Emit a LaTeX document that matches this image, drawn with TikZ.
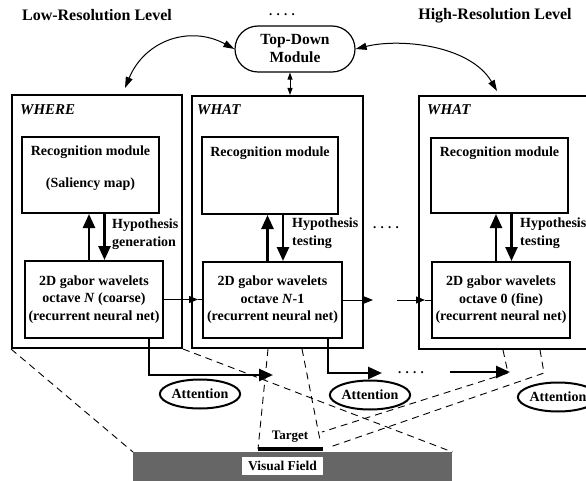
\documentclass[tikz,border=0pt]{standalone}
\usepackage{fontspec}
\setmainfont{Liberation Serif}
\usetikzlibrary{arrows.meta,shapes.geometric}
\definecolor{vfgray}{gray}{0.40}
\begin{document}
\begin{tikzpicture}[x=1pt,y=-1pt,
  box/.style={draw, line width=2pt, inner sep=0pt},
  txt/.style={font=\fontsize{14}{17.5}\selectfont\bfseries, align=center, inner sep=0pt},
  head/.style={font=\fontsize{16}{19}\selectfont\bfseries, inner sep=0pt},
  tag/.style={font=\fontsize{15}{18}\selectfont\bfseries\itshape, anchor=west, inner sep=0pt},
  hyp/.style={font=\fontsize{14}{18}\selectfont\bfseries, align=left, anchor=west, inner sep=0pt},
  bigarrow/.style={line width=2.5pt, -{Triangle[length=14pt,width=12pt]}},
  thinarrow/.style={line width=0.9pt, -{Triangle[length=9pt,width=7pt]}},
  curvearrow/.style={line width=1pt, {Triangle[length=11pt,width=7pt]}-{Triangle[length=11pt,width=7pt]}},
  att/.style={draw, ellipse, fill=white, line width=2pt, minimum width=77pt, minimum height=29pt, inner sep=0pt, font=\fontsize{14}{17}\selectfont\bfseries},
  fov/.style={dash pattern=on 7pt off 5pt, line width=0.9pt},
  dots/.style={font=\fontsize{13}{16}\selectfont\bfseries, inner sep=0pt},
]
\useasboundingbox (0,0) rectangle (586,481);
\clip (0,0) rectangle (586,481);

% level headings
\node[head] (lowres) at (97,15) {Low-Resolution Level};
\node[head] (highres) at (495,16) {High-Resolution Level};
\node[dots] (topdots) at (282,15) {. . . .};

% top-down module
\node[draw, line width=1.2pt, rounded corners=23pt, minimum width=120pt, minimum height=46pt,
      align=center, inner sep=0pt, font=\fontsize{15.5}{18}\selectfont\bfseries] (td) at (295,49) {Top-Down\\Module};

% outer columns
\node[box, minimum width=170pt, minimum height=253pt] (where) at (97,221.5) {};
\node[box, minimum width=171pt, minimum height=252pt] (what1) at (277.5,222) {};
\node[box, minimum width=181pt, minimum height=253pt] (what2) at (509.5,222.5) {};
\node[tag] (wheretag) at (20,110) {WHERE};
\node[tag] (what1tag) at (197,110) {WHAT};
\node[tag] (what2tag) at (427,110) {WHAT};

% recognition modules
\node[box, minimum width=137pt, minimum height=76pt] (rec0) at (90.5,175) {};
\node[txt] (rec0t) at (90.5,152) {Recognition module};
\node[txt] (rec0s) at (90.5,184) {(Saliency map)};
\node[box, minimum width=136pt, minimum height=77pt] (rec1) at (270,175.5) {};
\node[txt] (rec1t) at (270,153) {Recognition module};
\node[box, minimum width=137pt, minimum height=75pt] (rec2) at (499.5,175.5) {};
\node[txt] (rec2t) at (499.5,153) {Recognition module};

% gabor wavelet layers
\node[box, txt, minimum width=138pt, minimum height=77pt] (gab0) at (94,299.5)
  {2D gabor wavelets\\octave \textit{N} (coarse)\\(recurrent neural net)};
\node[box, txt, minimum width=139pt, minimum height=76pt] (gab1) at (272.5,300)
  {2D gabor wavelets\\octave \textit{N}-1\\(recurrent neural net)};
\node[box, txt, minimum width=138pt, minimum height=76pt] (gab2) at (501,300)
  {2D gabor wavelets\\octave 0 (fine)\\(recurrent neural net)};

% hypothesis arrows
\foreach \g/\r in {gab0/rec0, gab1/rec1, gab2/rec2}{
  \draw[bigarrow] ([xshift=-5pt]\g.north) -- ([xshift=-5pt]\g.north |- \r.south);
  \draw[bigarrow] ([xshift=10.5pt]\g.north |- \r.south) -- ([xshift=10.5pt]\g.north);
}
\node[hyp] (hyp0) at (112,234) {Hypothesis\\generation};
\node[hyp] (hyp1) at (292,233) {Hypothesis\\testing};
\node[hyp] (hyp2) at (520,233) {Hypothesis\\testing};
\node[dots] (middots) at (386,228) {. . . .};

% top-down links
\draw[line width=0.9pt, {Triangle[length=7pt,width=5pt]}-{Triangle[length=7pt,width=5pt]}]
  ([xshift=-5pt]td.south) -- ([xshift=-5pt]td.south |- what1.north);
\coordinate (whereTop) at (125,88);
\coordinate (what2Top) at (497,91);
\draw[curvearrow] (td.west) .. controls (190,25) and (145,40) .. (whereTop);
\draw[curvearrow] (td.east) .. controls (400,38) and (470,45) .. (what2Top);

% octave-to-octave links
\coordinate (h1) at (198,299.5);
\draw[thinarrow] (gab0.east) -- (h1);
\draw[line width=0.9pt] (h1) -- (h1 -| gab1.west);
\coordinate (h2) at (373,300);
\draw[thinarrow] (gab1.east) -- (h2);
\coordinate (h3) at (397,300);
\coordinate (h4) at (425,300);
\draw[thinarrow] (h3) -- (h4);
\draw[line width=0.9pt] (h4) -- (gab2.west);

% visual field and target
\node[fill=vfgray, minimum width=319pt, minimum height=40pt, anchor=north west, inner sep=0pt] (vf) at (133,452) {};
\node[fill=white, minimum width=81pt, minimum height=18pt, inner sep=0pt,
      font=\fontsize{13.5}{16}\selectfont\bfseries] (vflabel) at (282.5,466) {Visual Field};
\coordinate (tgtl) at (258,449);
\coordinate (tgtr) at (323,449);
\draw[line width=4pt] (tgtl) -- (tgtr);
\node[font=\fontsize{13}{15}\selectfont\bfseries, inner sep=0pt] (tgt) at (290,437) {Target};

% fields of view
\coordinate (k1) at (320,440);
\coordinate (k2) at (508,373);
\coordinate (k3) at (322,432);
\coordinate (k4) at (544,373);
\coordinate (k5) at (330,447);
\draw[fov] (where.south west) -- (vf.north west);
\draw[fov] (where.south east) -- (vf.north east);
\draw[fov] ([xshift=-9.5pt]what1.south) -- (tgtl);
\draw[fov] ([xshift=24.5pt]what1.south) -- (k1);
\draw[fov] ([xshift=-6.5pt]what2.south) -- (k2) -- (k3);
\draw[fov] ([xshift=30.5pt]what2.south) -- (k4) -- (k5);

% attention paths
\coordinate (a0) at (273,375);
\coordinate (a1) at (382,373);
\coordinate (a2s) at (450,372);
\coordinate (a2) at (510,372);
\draw[bigarrow] ([xshift=-15pt]gab0.south east) |- (a0);
\draw[bigarrow] ([xshift=-15pt]gab1.south east) |- (a1);
\draw[bigarrow] (a2s) -- (a2);
\node[dots] (botdots) at (411,373) {. . . .};
\node[att] (att0) at (200,394) {Attention};
\node[att] (att1) at (370,395) {Attention};
\node[att] (att2) at (558,397) {Attention};
\end{tikzpicture}
\end{document}
